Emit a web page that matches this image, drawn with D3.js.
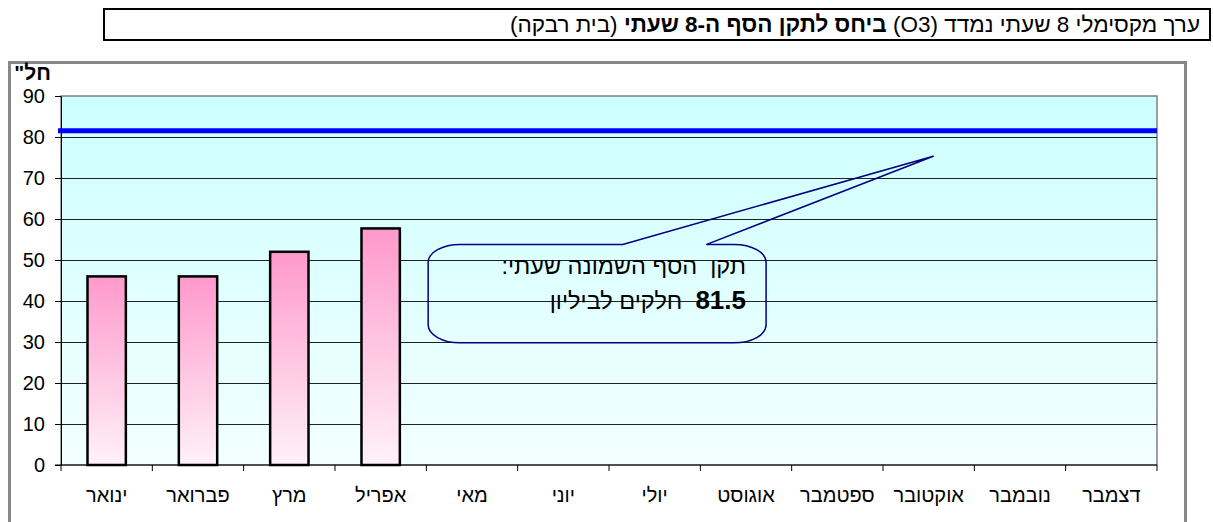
<!DOCTYPE html>
<html>
<head>
<meta charset="utf-8">
<script src="https://cdn.jsdelivr.net/npm/d3@7"></script>
<style>
	body { margin: 0; background: #fff; }
	svg { display: block; font-family: "Liberation Sans", Arial, sans-serif; }
	text { white-space: pre; }
</style>
</head>
<body>
<svg id="chart" width="1213" height="522"></svg>
<script>

// chart data
var months = ["ינואר", "פברואר", "מרץ", "אפריל", "מאי", "יוני", "יולי", "אוגוסט", "ספטמבר", "אוקטובר", "נובמבר", "דצמבר"];
var values = [46, 46, 52, 57.7, null, null, null, null, null, null, null, null];
var yticks = [0, 10, 20, 30, 40, 50, 60, 70, 80, 90];
var standard = 81.5;
var units = 'חל"';

// callout, in data units (category index / ppb)
var callTip = [9.55, 75.3];
var callBase = [6.15, 7.07];
var callBox = { x0: 4.02, x1: 7.72, y0: 53.8, y1: 29.8 };
var callLines = ["תקן  הסף השמונה שעתי:", "חלקים לביליון"];
var callValue = "81.5";

var svg = d3.select("#chart");

const margin = { top: 96, right: 56, bottom: 57, left: 61 },
	width = 1213 - margin.left - margin.right,
	height = 522 - margin.top - margin.bottom;

// title box
svg.append("rect")
	.attr("x", 104).attr("y", 9)
	.attr("width", 1106).attr("height", 31)
	.attr("fill", "#fff")
	.attr("stroke", "#000")
	.attr("stroke-width", 2);

var title = svg.append("text")
	.attr("x", 1200).attr("y", 32)
	.attr("direction", "rtl")
	.attr("text-anchor", "start")
	.attr("font-size", 22.5);
title.append("tspan").text("ערך מקסימלי 8 שעתי נמדד (O3) ");
title.append("tspan").attr("font-weight", "bold").text("ביחס לתקן הסף ה-8 שעתי");
title.append("tspan").text(" (בית רבקה)");

// chart frame
svg.append("rect")
	.attr("x", 9.5).attr("y", 62.5)
	.attr("width", 1176).attr("height", 480)
	.attr("fill", "#fff")
	.attr("stroke", "#888")
	.attr("stroke-width", 3);

var defs = svg.append("defs");

var bg = defs.append("linearGradient").attr("id", "bg")
	.attr("x1", 0).attr("y1", 0).attr("x2", 0).attr("y2", 1);
bg.append("stop").attr("offset", 0).attr("stop-color", "#ccffff");
bg.append("stop").attr("offset", 1).attr("stop-color", "#f3ffff");

var barfill = defs.append("linearGradient").attr("id", "barfill")
	.attr("x1", 0).attr("y1", 0).attr("x2", 0).attr("y2", 1);
barfill.append("stop").attr("offset", 0).attr("stop-color", "#ff99cc");
barfill.append("stop").attr("offset", 1).attr("stop-color", "#fff2f8");

var g = svg.append("g")
	.attr("transform", `translate(${margin.left},${margin.top})`);

var x = d3.scaleBand(months, [0, width]).paddingInner(0.58).paddingOuter(0.29);
var xi = d3.scaleLinear([0, months.length], [0, width]);
var y = d3.scaleLinear([0, 90], [height, 0]);

// plot area
g.append("rect")
	.attr("width", width).attr("height", height)
	.attr("fill", "url(#bg)")
	.attr("stroke", "#808080")
	.attr("stroke-width", 1.5);

// gridlines
g.selectAll(".grid")
	.data(yticks.filter(d => d > 0 && d < 90))
	.join("line")
	.attr("class", "grid")
	.attr("x1", 0).attr("x2", width)
	.attr("y1", d => Math.round(y(d)) + 0.5)
	.attr("y2", d => Math.round(y(d)) + 0.5)
	.attr("stroke", "#222")
	.attr("stroke-width", 1);

// standard line
g.append("line")
	.attr("x1", -3).attr("x2", width)
	.attr("y1", y(standard)).attr("y2", y(standard))
	.attr("stroke", "#0000ff")
	.attr("stroke-width", 5);

// bars
g.selectAll(".bar")
	.data(months.map((m, i) => ({ m: m, v: values[i] })).filter(d => d.v != null))
	.join("rect")
	.attr("class", "bar")
	.attr("x", d => x(d.m))
	.attr("y", d => y(d.v))
	.attr("width", x.bandwidth())
	.attr("height", d => height - y(d.v))
	.attr("fill", "url(#barfill)")
	.attr("stroke", "#000")
	.attr("stroke-width", 2.5);

// axes
var yaxis = d3.axisLeft(y).tickValues(yticks).tickSize(6).tickPadding(10);
g.append("g").attr("class", "yaxis").call(yaxis)
	.call(s => s.selectAll("text").attr("font-size", 20).attr("font-family", null).attr("fill", "#000"))
	.call(s => s.selectAll("line, path").attr("stroke", "#000"));

var xaxis = d3.axisBottom(x).tickSize(0).tickPadding(23);
g.append("g").attr("class", "xaxis")
	.attr("transform", `translate(0,${height})`)
	.call(xaxis)
	.call(s => s.select(".domain").attr("stroke", "#000").attr("d", `M-6,0H${width}`))
	.call(s => s.selectAll("text").attr("font-size", 20).attr("font-family", null).attr("fill", "#000"));

g.select(".xaxis").selectAll(".sep")
	.data(d3.range(months.length + 1))
	.join("line")
	.attr("class", "sep")
	.attr("x1", d => xi(d)).attr("x2", d => xi(d))
	.attr("y1", 0).attr("y2", 6)
	.attr("stroke", "#000");

// units label
svg.append("text")
	.attr("x", 51).attr("y", 80)
	.attr("direction", "rtl")
	.attr("text-anchor", "start")
	.attr("font-size", 21)
	.attr("font-weight", "bold")
	.text(units);

// callout
var bx0 = xi(callBox.x0), bx1 = xi(callBox.x1), by0 = y(callBox.y0), by1 = y(callBox.y1);
var rx = 32, ry = 18;
var path = d3.path();
path.moveTo(bx0 + rx, by0);
path.lineTo(xi(callBase[0]), by0);
path.lineTo(xi(callTip[0]), y(callTip[1]));
path.lineTo(xi(callBase[1]), by0);
path.lineTo(bx1 - rx, by0);
var p = path.toString()
	+ `A${rx},${ry} 0 0 1 ${bx1},${by0 + ry}`
	+ `L${bx1},${by1 - ry}`
	+ `A${rx},${ry} 0 0 1 ${bx1 - rx},${by1}`
	+ `L${bx0 + rx},${by1}`
	+ `A${rx},${ry} 0 0 1 ${bx0},${by1 - ry}`
	+ `L${bx0},${by0 + ry}`
	+ `A${rx},${ry} 0 0 1 ${bx0 + rx},${by0}Z`;

g.append("path")
	.attr("d", p)
	.attr("fill", "none")
	.attr("stroke", "#000080")
	.attr("stroke-width", 1.5)
	.attr("stroke-linejoin", "round");

g.append("text")
	.attr("x", xi(7.5)).attr("y", y(46.5))
	.attr("direction", "rtl")
	.attr("text-anchor", "start")
	.attr("font-size", 23.5)
	.text(callLines[0]);

var l2 = g.append("text")
	.attr("x", xi(7.5)).attr("y", y(38.1))
	.attr("direction", "rtl")
	.attr("text-anchor", "start")
	.attr("font-size", 23.5);
l2.append("tspan").attr("font-weight", "bold").attr("font-size", 26).text(callValue);
l2.append("tspan").text("  " + callLines[1]);

</script>
</body>
</html>
